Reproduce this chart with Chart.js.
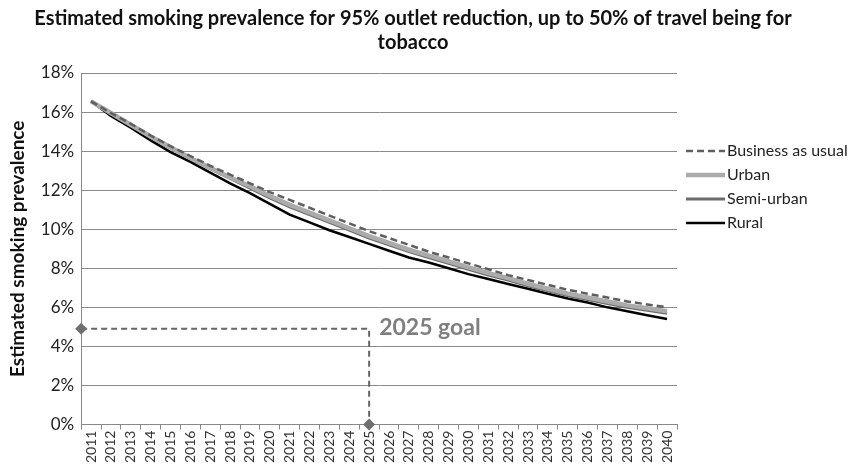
<!DOCTYPE html>
<html>
<head>
<meta charset="utf-8">
<script src="https://cdn.jsdelivr.net/npm/chart.js@4"></script>
<style>
  html, body { margin: 0; padding: 0; background: #fff; }
  #wrap { width: 855px; height: 464px; }
</style>
</head>
<body>
<div id="wrap"><canvas id="chart" width="855" height="464"></canvas></div>
<script>
// years on the category axis
const years = [];
for (let y = 2011; y <= 2040; y++) years.push(String(y));

// estimated prevalence (%)
const businessAsUsual = [16.55, 15.95, 15.4, 14.8, 14.25, 13.75, 13.25, 12.8, 12.35, 11.9,
  11.5, 11.1, 10.7, 10.3, 9.9, 9.55, 9.2, 8.85, 8.55, 8.25,
  7.95, 7.65, 7.4, 7.15, 6.9, 6.7, 6.5, 6.3, 6.15, 6.0];
const urban = [16.55, 15.95, 15.35, 14.75, 14.2, 13.65, 13.15, 12.65, 12.2, 11.7,
  11.25, 10.85, 10.45, 10.05, 9.65, 9.3, 8.95, 8.65, 8.35, 8.05,
  7.75, 7.5, 7.2, 6.95, 6.7, 6.5, 6.3, 6.1, 5.95, 5.8];
const semiUrban = [16.55, 15.9, 15.3, 14.7, 14.15, 13.6, 13.1, 12.6, 12.1, 11.6,
  11.15, 10.75, 10.35, 9.95, 9.55, 9.2, 8.85, 8.55, 8.25, 7.95,
  7.65, 7.4, 7.1, 6.85, 6.6, 6.4, 6.2, 6.0, 5.85, 5.7];
const rural = [16.55, 15.8, 15.2, 14.55, 13.95, 13.45, 12.9, 12.35, 11.85, 11.3,
  10.75, 10.35, 9.95, 9.6, 9.25, 8.9, 8.55, 8.3, 8.0, 7.7,
  7.45, 7.2, 6.95, 6.7, 6.45, 6.25, 6.0, 5.8, 5.6, 5.4];

// 2025 goal marker (year, prevalence)
const goalYear = 2025;
const goalValue = 4.9;
const goalLabel = '2025 goal';

const titleLines = ['Estimated smoking prevalence for 95% outlet reduction, up to 50% of travel being for', 'tobacco'];

const FONT = 'Lato, "Liberation Sans", sans-serif';

// title centred on the page (the built-in one would centre on the padded area)
const pageTitle = {
  id: 'pageTitle',
  afterDraw(chart) {
    const ctx = chart.ctx;
    ctx.save();
    ctx.font = 'bold 20px ' + FONT;
    ctx.fillStyle = '#111';
    ctx.textAlign = 'center';
    ctx.textBaseline = 'middle';
    titleLines.forEach((t, i) => ctx.fillText(t, 413, 19 + i * 24));
    ctx.restore();
  }
};

// legend drawn by hand so it sits where the original one is
const sideLegend = {
  id: 'sideLegend',
  afterDraw(chart) {
    const ctx = chart.ctx;
    const items = chart.data.datasets.filter(d => !d.isGoal);
    ctx.save();
    ctx.font = '16px ' + FONT;
    ctx.textBaseline = 'middle';
    items.forEach((d, i) => {
      const y = 151 + i * 24;
      ctx.beginPath();
      ctx.setLineDash(d.borderDash || []);
      ctx.lineWidth = d.borderWidth;
      ctx.strokeStyle = d.borderColor;
      ctx.moveTo(686, y);
      ctx.lineTo(725, y);
      ctx.stroke();
      ctx.setLineDash([]);
      ctx.fillStyle = '#222';
      ctx.fillText(d.label, 727, y);
    });
    ctx.restore();
  }
};

// "2025 goal" text next to the dashed line
const goalText = {
  id: 'goalText',
  afterDatasetsDraw(chart) {
    const x2 = chart.scales.x2, y = chart.scales.y;
    const ctx = chart.ctx;
    ctx.save();
    ctx.font = 'bold 23px ' + FONT;
    ctx.fillStyle = '#7f7f7f';
    ctx.textBaseline = 'middle';
    ctx.fillText(goalLabel, x2.getPixelForValue(goalYear) + 10, y.getPixelForValue(goalValue + 0.05));
    ctx.restore();
  }
};

const ctx = document.getElementById('chart').getContext('2d');
new Chart(ctx, {
  type: 'line',
  data: {
    labels: years,
    datasets: [{
      label: 'Business as usual',
      data: businessAsUsual,
      borderColor: '#5f5f5f',
      borderWidth: 2.5,
      borderDash: [7, 4],
      pointRadius: 0,
      tension: 0
    }, {
      label: 'Urban',
      data: urban,
      borderColor: '#ababab',
      borderWidth: 4.5,
      pointRadius: 0,
      tension: 0
    }, {
      label: 'Semi-urban',
      data: semiUrban,
      borderColor: '#6c6c6c',
      borderWidth: 3,
      pointRadius: 0,
      tension: 0
    }, {
      label: 'Rural',
      data: rural,
      borderColor: '#000000',
      borderWidth: 2.5,
      pointRadius: 0,
      tension: 0
    }, {
      label: 'goal',
      isGoal: true,
      xAxisID: 'x2',
      data: [{ x: 2010.5, y: goalValue }, { x: goalYear, y: goalValue }, { x: goalYear, y: 0 }],
      borderColor: '#666666',
      borderWidth: 2,
      borderDash: [6, 4],
      pointStyle: 'rectRot',
      pointRadius: [6, 0, 6],
      pointBackgroundColor: '#6f6f6f',
      pointBorderWidth: 0,
      tension: 0,
      clip: false
    }]
  },
  options: {
    responsive: false,
    animation: false,
    layout: { padding: { left: 6, right: 178, top: 73, bottom: 0 } },
    plugins: {
      legend: { display: false },
      tooltip: { enabled: false },
      title: { display: false }
    },
    scales: {
      x: {
        type: 'category',
        offset: true,
        grid: { offset: true, drawOnChartArea: false, drawTicks: true, tickLength: 5, color: '#888' },
        border: { color: '#888' },
        ticks: { minRotation: 90, maxRotation: 90, autoSkip: false, color: '#333', font: { family: FONT, size: 14 }, padding: 1 }
      },
      x2: {
        type: 'linear',
        display: false,
        min: 2010.5,
        max: 2040.5
      },
      y: {
        min: 0,
        max: 18,
        ticks: { stepSize: 2, callback: v => v + '%', color: '#222', font: { family: FONT, size: 17 }, padding: 7 },
        grid: { color: '#8a8a8a', drawTicks: false },
        border: { color: '#888' },
        title: {
          display: true,
          text: 'Estimated smoking prevalence',
          color: '#111',
          font: { family: FONT, size: 19, weight: 'bold' },
          padding: { top: 0, bottom: 5 }
        }
      }
    }
  },
  plugins: [pageTitle, sideLegend, goalText]
});
</script>
</body>
</html>
